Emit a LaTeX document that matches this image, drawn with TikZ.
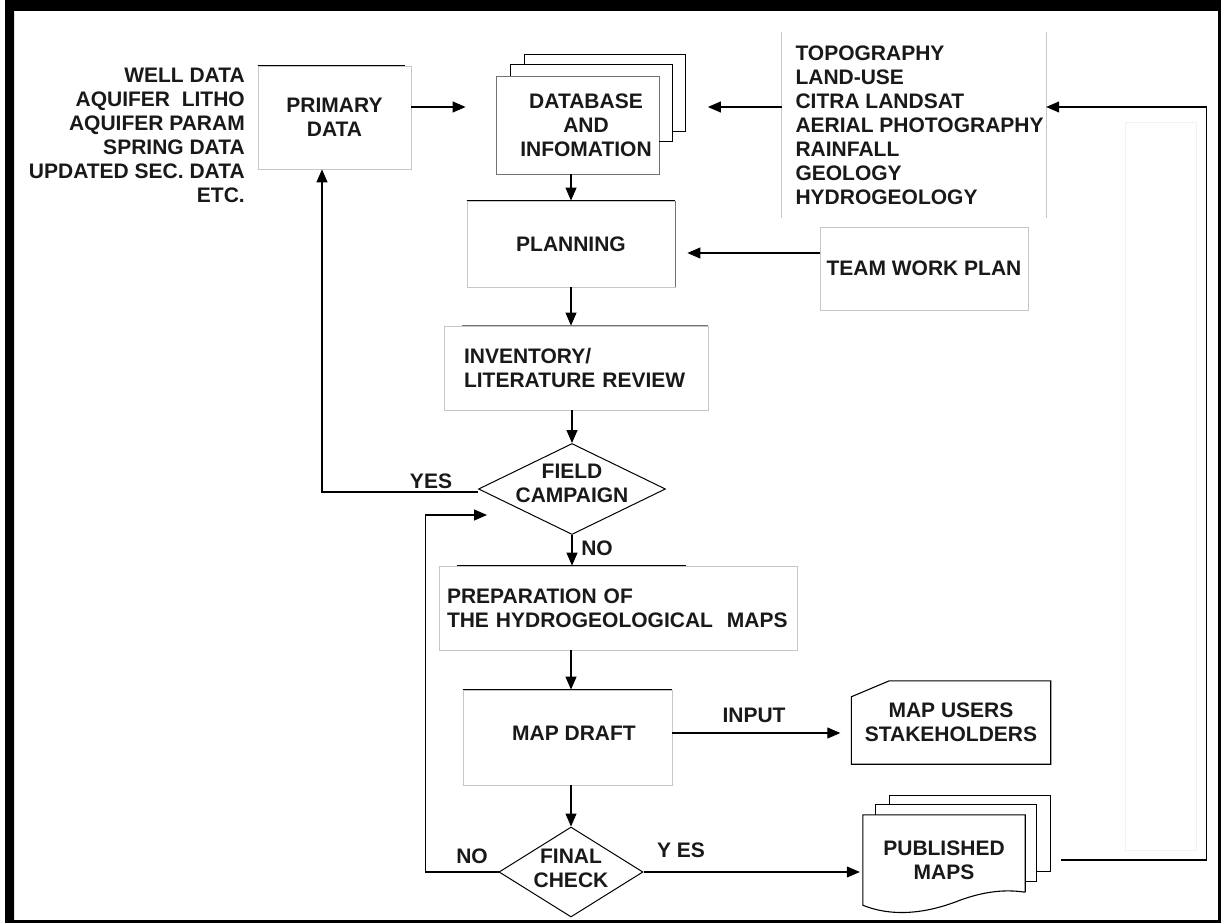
\documentclass[tikz,border=0pt]{standalone}
\usepackage{fontspec}
\setmainfont{Liberation Sans}
\usepackage{xcolor}
\usetikzlibrary{positioning}
\usetikzlibrary{shapes,arrows.meta}
\definecolor{inkgray}{gray}{0.1}
\definecolor{edgegray}{gray}{0.78}
\definecolor{midgray}{gray}{0.45}
\definecolor{faintgray}{gray}{0.95}

\begin{document}
\begin{tikzpicture}[x=1pt,y=-1pt,
  every node/.style={font=\fontsize{21}{24}\selectfont\bfseries, text=inkgray, inner sep=0pt},
  box/.style 2 args={draw=edgegray, line width=0.8pt, minimum width=#1, minimum height=#2, align=center},
  decision/.style 2 args={shape=diamond, draw=black, line width=1pt, minimum width=#1, minimum height=#2},
  line/.style={draw=black, line width=1.1pt},
  flow/.style={line, -{Triangle[length=13pt,width=11pt]}}]
  \useasboundingbox (0,0) rectangle (1221,923);
  \fill[black, even odd rule] (5,0) rectangle (1221,923) (14,11) rectangle (1218,920);
  \draw[faintgray] (1125,122) rectangle (1196,850);
  \coordinate (row) at (0,107);
  \coordinate (twprow) at (0,253);
  \node(wells) [anchor=east, align=right] at (245,135) {WELL DATA\\AQUIFER\ \ LITHO\\AQUIFER PARAM\\SPRING DATA\\UPDATED SEC. DATA\\ETC.};
  \node(pd) [box={153}{103}] at (334.5,117.5) {PRIMARY\\DATA};
  \draw[line] (pd.north west) -- ([xshift=-6pt]pd.north east);
  \node(db) [box={163}{98}, draw=midgray] at (577.5,125) {};
  \node(dbtext) [align=center] at ([xshift=8.5pt]db.center) {DATABASE\\AND\\INFOMATION};
  \draw[line] ([shift={(15,0)}]db.north west) -- ++(0,-11) -- ++(162,0) -- ++(0,77) -- ++(-14,0);
  \draw[line] ([shift={(29,-11)}]db.north west) -- ++(0,-10) -- ++(161,0) -- ++(0,77) -- ++(-13,0);
  \node(src) [minimum width=264, minimum height=186] at (914,125) {};
  \draw[edgegray, line width=0.8pt] (src.north west) -- (src.south west) (src.north east) -- (src.south east);
  \node(srctext) [anchor=west, align=left] at ([xshift=13.5pt]src.west) {TOPOGRAPHY\\LAND-USE\\CITRA LANDSAT\\AERIAL PHOTOGRAPHY\\RAINFALL\\GEOLOGY\\HYDROGEOLOGY};
  \node(pl) [box={208}{86}] at (571,244) {PLANNING};
  \draw[line] (pl.north west) -- (pl.north east);
  \draw[midgray, line width=0.9pt] (pl.north east) -- (pl.south east);
  \node(twp) [box={208}{83}] at (924,268.5) {TEAM WORK PLAN};
  \node(inv) [box={264}{84}, text width=224, align=left] at (576,368) {INVENTORY/\\LITERATURE REVIEW};
  \draw[midgray, line width=0.9pt] ([xshift=18pt]inv.north west) -- (inv.north east);
  \node(fc) [decision={187}{91}] at (572,489) {};
  \node(fctext) [align=center] at ([yshift=6pt]fc.center) {FIELD\\CAMPAIGN};
  \node(yes) at (431,481) {YES};
  \node(no) at (597,548) {NO};
  \node(prep) [box={358}{84}, text width=342, align=left] at (618,608) {PREPARATION OF\\THE HYDROGEOLOGICAL\ \ MAPS};
  \draw[line] ([xshift=18pt]prep.north west) -- ([xshift=-111pt]prep.north east);
  \node(md) [box={209}{95}] at (567.5,737.5) {};
  \node(mdtext) at (574,733) {MAP DRAFT};
  \draw[line] (md.north west) -- (md.north east);
  \node(input) at (754,715) {INPUT};
  \node(mu) [minimum width=199, minimum height=83, align=center] at (951,722.5) {MAP USERS\\STAKEHOLDERS};
  \draw[line] ([shift={(0,16)}]mu.north west) -- ([shift={(38,0)}]mu.north west) -- (mu.north east) -- (mu.south east) -- (mu.south west) -- cycle;
  \node(fcheck) [decision={144}{90}] at (571,872) {};
  \node(fchecktext) [align=center] at ([yshift=4pt]fcheck.center) {FINAL\\CHECK};
  \node(no2) at (472,856) {NO};
  \node(yes2) at (681,850) {Y ES};
  \node(pm) [minimum width=162, minimum height=90, align=center] at (944,860) {PUBLISHED\\MAPS};
  \draw[line] ([shift={(0,-13)}]pm.south east) -- (pm.north east) -- (pm.north west) -- (pm.south west)
    .. controls +(32,13) and +(-30,12) .. ([shift={(16,-5)}]pm.south)
    .. controls +(25,-9) and +(-20,-3) .. ([shift={(0,-13)}]pm.south east);
  \draw[line] ([shift={(13,0)}]pm.north west) -- ++(0,-10) -- ++(161,0) -- ++(0,77) -- ++(-12,0);
  \draw[line] ([shift={(27,-10)}]pm.north west) -- ++(0,-9) -- ++(161,0) -- ++(0,76) -- ++(-14,0);
  \coordinate (yesbend) at (322,0);
  \coordinate (nobend) at (425.6,515);
  \coordinate (backin) at (487,515);
  \coordinate (loop) at (1206.6,107);
  \draw[flow, shorten >=30pt] (pd.east |- row) -- (db.west |- row);
  \draw[flow, shorten >=48.5pt] (src.west |- row) -- (db.east |- row);
  \draw[flow] (db.south -| pl.north) -- (pl.north);
  \draw[flow, shorten >=12pt] (twp.west |- twprow) -- (pl.east |- twprow);
  \draw[flow] (pl.south) -- (pl.south |- inv.north);
  \draw[flow] (inv.south -| fc.north) -- (fc.north);
  \draw[flow] ([yshift=-3pt]fc.west) -| (pd.south -| yesbend);
  \draw[flow] (fc.south) -- (fc.south |- prep.north);
  \draw[flow] (prep.south -| fcheck.north) -- (fcheck.north |- md.north);
  \draw[flow, shorten >=11pt] (md.east |- mdtext) -- (mu.west |- mdtext);
  \draw[flow] (md.south -| fcheck.north) -- (fcheck.north);
  \draw[flow] (fcheck.west) -| (nobend) -- (backin);
  \draw[flow, shorten >=3pt] (fcheck.east) -- (fcheck.east -| pm.west);
  \draw[flow, shorten <=36pt] (pm.east) -| (loop) -- (src.east |- loop);
\end{tikzpicture}
\end{document}
